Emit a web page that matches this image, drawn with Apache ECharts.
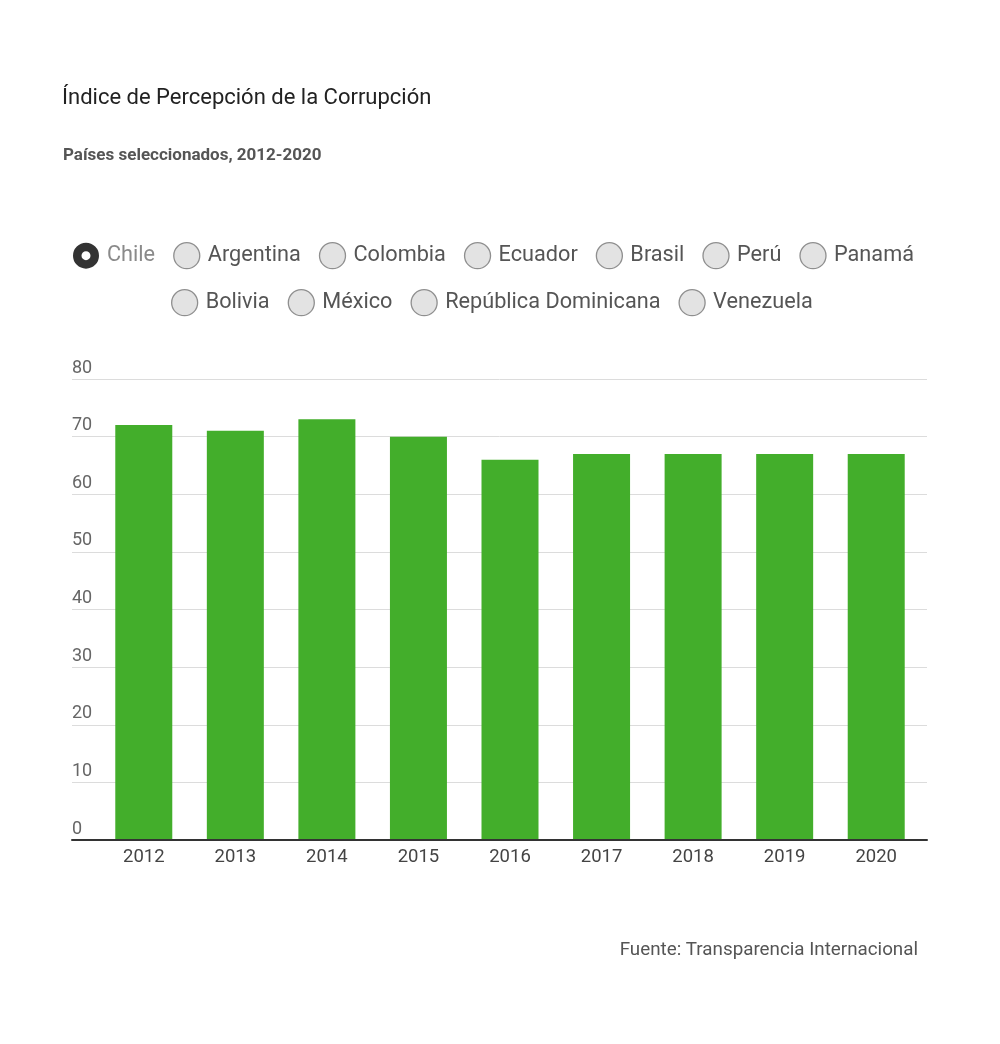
<!DOCTYPE html>
<html>
<head>
<meta charset="utf-8">
<script src="https://cdn.jsdelivr.net/npm/echarts@6/dist/echarts.min.js"></script>
<style>
html,body{margin:0;padding:0;background:#fff;}
#chart{width:1000px;height:1044px;}
</style>
</head>
<body>
<div id="chart"></div>
<script>
const years = ['2012','2013','2014','2015','2016','2017','2018','2019','2020'];
const chileValues = [72, 71, 73, 70, 66, 67, 67, 67, 67];
const countriesRow1 = ['Chile','Argentina','Colombia','Ecuador','Brasil','Perú','Panamá'];
const countriesRow2 = ['Bolivia','México','República Dominicana','Venezuela'];
const yMin = 0, yMax = 80, yStep = 10;

const FONT = 'Roboto, "Noto Sans", sans-serif';
const selectedCountry = 'Chile';
const ringIcon = 'path://M0,-13A13,13 0 1,1 0,13A13,13 0 1,1 0,-13Z M0,-4.5A4.5,4.5 0 1,0 0,4.5A4.5,4.5 0 1,0 0,-4.5Z';

function legendItems(list) {
  return list.map(function (n) {
    if (n === selectedCountry) {
      return { name: n, icon: ringIcon, itemStyle: { color: '#333', borderWidth: 0 }, textStyle: { color: '#8a8a8a' } };
    }
    return { name: n, icon: 'circle', itemStyle: { color: '#e3e3e3', borderColor: '#8f8f8f', borderWidth: 1.3 } };
  });
}

function legendBase(left, top, list) {
  return {
    left: left, top: top, orient: 'horizontal', padding: 0,
    itemWidth: 26, itemHeight: 26, itemGap: 18, selectedMode: false,
    textStyle: { fontFamily: FONT, fontSize: 21.7, color: '#555', padding: [0, 0, 0, 3] },
    data: legendItems(list)
  };
}

const allCountries = countriesRow1.concat(countriesRow2);
const series = allCountries.map(function (n) {
  return {
    name: n, type: 'bar', xAxisIndex: 0, yAxisIndex: 0,
    data: n === selectedCountry ? chileValues : [],
    barWidth: 57, barGap: '-100%',
    itemStyle: { color: '#43ae2b' },
    silent: true, z: 3
  };
});

const chart = echarts.init(document.getElementById('chart'));
chart.setOption({
  backgroundColor: '#fff',
  animation: false,
  title: [
    { text: 'Índice de Percepción de la Corrupción', left: 62, top: 87, padding: 0,
      textStyle: { fontFamily: FONT, fontSize: 22, fontWeight: 'normal', color: '#222' } },
    { text: 'Países seleccionados, 2012-2020', left: 63, top: 147, padding: 0,
      textStyle: { fontFamily: FONT, fontSize: 17, fontWeight: 'bold', color: '#555' } },
    { text: 'Fuente: Transparencia Internacional', right: 82, top: 941, padding: 0,
      textStyle: { fontFamily: FONT, fontSize: 18.8, fontWeight: 'normal', color: '#555' } }
  ],
  legend: [legendBase(73, 242, countriesRow1), legendBase(171, 289, countriesRow2)],
  grid: [
    { left: 98, right: 78, top: 379, bottom: 204 },
    { left: 72, right: 73, top: 379, bottom: 204 }
  ],
  xAxis: [
    { type: 'category', gridIndex: 0, data: years, boundaryGap: true,
      axisLine: { show: false }, axisTick: { show: false },
      axisLabel: { fontFamily: FONT, fontSize: 18.5, color: '#444', margin: 8 } },
    { type: 'value', gridIndex: 1, min: 0, max: 1, show: true,
      axisLine: { show: true, onZero: false, lineStyle: { color: '#333', width: 2 } },
      axisTick: { show: false }, axisLabel: { show: false }, splitLine: { show: false }, z: 5 }
  ],
  yAxis: [
    { type: 'value', gridIndex: 0, min: yMin, max: yMax, interval: yStep, show: false },
    { type: 'value', gridIndex: 1, min: yMin, max: yMax, interval: yStep,
      axisLine: { show: false }, axisTick: { show: false },
      splitLine: { show: true, lineStyle: { color: '#dcdcdc', width: 1 } },
      axisLabel: { inside: true, margin: 0, verticalAlign: 'bottom', padding: [0, 0, 2, 0],
        fontFamily: FONT, fontSize: 18, color: '#666' } }
  ],
  series: series
});
</script>
</body>
</html>
